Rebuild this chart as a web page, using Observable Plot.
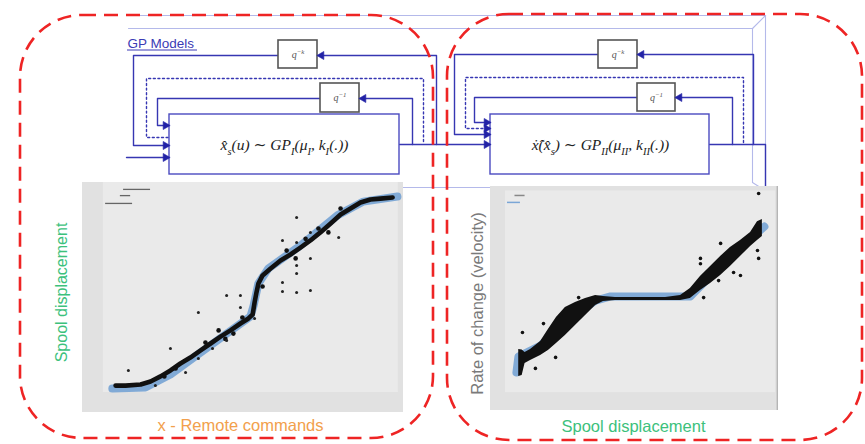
<!DOCTYPE html>
<html><head><meta charset="utf-8">
<script src="https://cdn.jsdelivr.net/npm/d3@7"></script>
<script src="https://cdn.jsdelivr.net/npm/@observablehq/plot@0.6"></script>
<style>
html,body{margin:0;padding:0;background:#fff;}
#wrap{position:relative;width:865px;height:444px;overflow:hidden;background:#fff;}
#wrap svg{position:absolute;}
</style></head><body><div id="wrap"></div>
<script>
// ---------------- DATA ----------------
// Left panel: spool displacement vs remote commands (0-100 units)
const leftMeanX  = [9.3, 19.6, 27.4, 36.8, 52.3, 53.3, 54.8, 57.9, 67.9, 79.4, 87.5, 98.1];
const leftMeanY  = [10.4, 10.9, 16.5, 26.1, 41.7, 46.5, 56.1, 62.6, 72.6, 85.7, 91.7, 93.9];
const leftTraceX = [10.3, 13.4, 18.1, 21.2, 24.3, 27.4, 30.5, 33.6, 36.8, 39.9, 43.0, 46.1, 49.2, 51.7, 53.0, 53.6, 54.2, 54.8, 56.1, 58.6, 61.7, 64.8, 67.9, 71.0, 74.1, 77.3, 80.4, 83.5, 86.6, 89.7, 92.8, 96.6];
const leftTraceY = [11.7, 11.7, 12.2, 13.5, 15.7, 18.3, 21.3, 23.9, 27.0, 30.0, 33.0, 35.7, 38.7, 40.9, 42.6, 47.8, 52.2, 56.1, 59.6, 62.6, 66.1, 68.7, 71.7, 74.8, 78.3, 82.2, 86.1, 88.7, 91.3, 92.6, 93.0, 93.5];
const leftSpikeX = [38.3, 42.4, 47.0, 49.8, 63.6, 66.4, 73.5, 76.6, 80.4, 56.1, 29.0, 25.5, 44.5, 69.5];
const leftSpikeY = [30.4, 35.7, 34.3, 41.3, 70.4, 67.0, 80.0, 78.3, 88.7, 54.8, 19.1, 15.7, 32.0, 75.5];
const leftDotsX  = [14.3, 22.7, 27.4, 32.1, 36.1, 36.1, 40.5, 44.9, 49.2, 44.9, 49.2, 62.3, 66.7, 71.0, 66.7, 71.0, 66.7, 66.7, 62.3, 62.3, 66.7, 71.0, 79.8, 53.6];
const leftDotsY  = [18.3, 11.7, 27.8, 17.4, 43.5, 23.5, 27.8, 50.9, 50.9, 31.3, 45.7, 74.8, 84.8, 78.3, 73.9, 67.0, 63.9, 60.4, 56.5, 52.6, 52.2, 53.0, 76.1, 40.9];
const leftLegendY  = [97.0, 94.3, 90.9];
const leftLegendX1 = [12.8, 11.8, 7.2];
const leftLegendX2 = [21.2, 15.0, 15.6];

// Right panel: rate of change (velocity) vs spool displacement (0-100 units)
const rightMeanX  = [9.0, 9.7, 17.4, 27.8, 36.5, 41.7, 69.4, 79.9, 95.1];
const rightMeanY  = [17.0, 24.1, 29.0, 41.1, 49.1, 50.9, 50.9, 64.7, 82.1];
const rightTraceX  = [9.8, 11.0, 12.0, 13.9, 17.4, 20.1, 22.9, 26.0, 29.5, 33.0, 36.5, 39.2, 43.4, 52.1, 60.8, 66.0, 69.4, 72.9, 76.4, 79.9, 83.3, 86.8, 90.3, 92.7, 94.4];
const rightTraceLo = [15.2, 15.6, 21.0, 22.3, 24.6, 26.8, 29.9, 33.5, 37.9, 42.4, 46.9, 48.7, 49.1, 49.1, 49.1, 49.1, 50.0, 53.6, 56.7, 60.3, 64.3, 68.8, 73.2, 75.9, 77.7];
const rightTraceHi = [27.2, 27.0, 25.9, 27.2, 30.8, 36.2, 41.5, 46.0, 48.2, 50.0, 51.3, 50.9, 50.4, 50.4, 50.4, 51.3, 54.5, 59.8, 64.3, 68.8, 72.8, 75.9, 79.5, 84.3, 85.3];
const rightDotsX = [30.6, 24.3, 18.4, 11.1, 22.6, 15.6, 72.9, 79.9, 84.4, 86.8, 79.2, 93.1, 92.7, 74.0, 93.1, 72.9];
const rightDotsY = [50.4, 42.4, 38.8, 34.8, 23.7, 18.8, 67.9, 74.6, 61.6, 60.3, 58.0, 67.9, 71.4, 50.4, 96.9, 65.5];
const rightLegendY  = [92.9, 96.0];
const rightLegendX1 = [5.9, 8.5];
const rightLegendX2 = [10.4, 12.0];

// Text
const modelsTitle = "GP Models";
const formulaI  = "x\u0302_{s}(u) \u223C GP_{I}(\u03BC_{I}, k_{I}(.))";
const formulaII = "x\u0307\u0302(x\u0302_{s}) \u223C GP_{II}(\u03BC_{II}, k_{II}(.))";
const delayK = "q^{\u2212k}";
const delay1 = "q^{\u22121}";
const leftYLabel  = "Spool displacement";
const leftXLabel  = "x - Remote commands";
const rightYLabel = "Rate of change (velocity)";
const rightXLabel = "Spool displacement";

// ---------------- LAYOUT (diagram geometry, px) ----------------
const W = 865, H = 444;
const frameLines = [
  [[128,15],[765,15]], [[128,28],[752,28]], [[765,15],[765,190]],
  [[752,28],[752,182]], [[752,28],[765,15]], [[752,182],[763,189]],
  [[128,187],[765,187]]
];
const solidLines = [
  [[399,144],[485,144]],
  [[436,144],[436,55],[321,55]],
  [[278,55],[133,55],[133,145],[164,145]],
  [[412,144],[412,98],[363,98]],
  [[320,98],[157,98],[157,125],[164,125]],
  [[126,157],[164,157]],
  [[709,144],[765,144],[765,190]],
  [[753,144],[753,54],[641,54]],
  [[598,54],[454,54],[454,134],[485,134]],
  [[732,144],[732,97],[679,97]],
  [[637,97],[474,97],[474,122],[485,122]]
];
const dottedLines = [
  [[423,141],[423,78],[146,78],[146,137],[168,137]],
  [[743,142],[743,77],[465,77],[465,128],[485,128]]
];
const arrowHeads = [
  [165,145,90],[165,125,90],[165,157,90],
  [486,144,90],[486,134,90],[486,122,90],[486,128,90],
  [321,55,-90],[363,98,-90],[641,54,-90],[679,97,-90]
];
const gpBoxes = [[169,114,399,174],[490,114,709,174]];
const qBoxes  = [[278,40,317,68],[320,83,359,112],[598,40,637,68],[637,83,675,111]];
const qLabels = [[297.5,54,delayK],[339.5,97.5,delay1],[617.5,54,delayK],[656,97,delay1]];
const redFrames = [[20,15,433,438],[447,14,862,440]];
const leftPanel  = {left:82, top:182, width:321, height:230};
const rightPanel = {left:490, top:186, width:288, height:224};

// ---------------- helpers ----------------
const BLUE = "#3636b2", LIGHT = "#b4b9ea";
const flat = (lines) => lines.flatMap((pts, i) => pts.map(p => ({id: i, x: p[0], y: p[1]})));
function stage(marks) {
  return Plot.plot({
    width: W, height: H, margin: 0,
    x: {domain: [0, W], axis: null},
    y: {domain: [0, H], reverse: true, axis: null},
    style: {background: "transparent", overflow: "visible"},
    marks
  });
}
function mathify(svg) {
  const ns = "http://www.w3.org/2000/svg";
  svg.querySelectorAll("text").forEach(el => {
    const s = el.textContent;
    if (!/[_^]\{/.test(s)) return;
    el.textContent = "";
    const re = /([_^])\{([^}]*)\}|([^_^]+)/g;
    let m, cur = 0;
    while ((m = re.exec(s))) {
      const ts = document.createElementNS(ns, "tspan");
      if (m[3] !== undefined) {
        ts.textContent = m[3];
        if (cur) ts.setAttribute("dy", (-cur) + "em");
        cur = 0;
      } else {
        const sh = m[1] === "_" ? 0.26 : -0.42;
        ts.setAttribute("font-size", "68%");
        ts.setAttribute("dy", ((sh - cur) / 0.68) + "em");
        ts.textContent = m[2];
        cur = sh;
      }
      el.appendChild(ts);
    }
  });
}
function place(svg, box) {
  svg.style.left = box.left + "px"; svg.style.top = box.top + "px";
  return svg;
}
const wrap = document.getElementById("wrap");

// ---------------- layer 1: GP model diagram ----------------
const diagram = stage([
  Plot.line(flat(frameLines), {x: "x", y: "y", z: "id", stroke: LIGHT, strokeWidth: 1.1}),
  Plot.line(flat(solidLines), {x: "x", y: "y", z: "id", stroke: BLUE, strokeWidth: 1.4}),
  Plot.line(flat(dottedLines), {x: "x", y: "y", z: "id", stroke: BLUE, strokeWidth: 1.4, strokeDasharray: "2,2.6"}),
  Plot.rect(gpBoxes, {x1: d => d[0], y1: d => d[1], x2: d => d[2], y2: d => d[3], fill: "white", stroke: "#4a4ac0", strokeWidth: 1.4}),
  Plot.rect(qBoxes, {x1: d => d[0], y1: d => d[1], x2: d => d[2], y2: d => d[3], fill: "white", stroke: "#555", strokeWidth: 1.6}),
  Plot.dot(arrowHeads, {x: d => d[0], y: d => d[1], rotate: d => d[2], symbol: "triangle", r: 3, fill: "#2222a6", stroke: "#2222a6", strokeWidth: 0.6}),
  Plot.text(qLabels, {x: d => d[0], y: d => d[1], text: d => d[2], fontFamily: "Liberation Serif, DejaVu Serif, serif", fontStyle: "italic", fontSize: 10, fill: "#555"}),
  Plot.text([modelsTitle], {x: 127, y: 43, text: d => d, textAnchor: "start", fontFamily: "Liberation Sans, Arial, sans-serif", fontSize: 13.5, fill: "#3b3bb5"}),
  Plot.ruleY([49.5], {x1: 127, x2: 197, stroke: "#3b3bb5", strokeWidth: 1}),
  Plot.text([[284, 145, formulaI], [600, 145, formulaII]], {x: d => d[0], y: d => d[1], text: d => d[2], fontFamily: "Liberation Serif, DejaVu Serif, serif", fontStyle: "italic", fontSize: 15.5, fill: "#222"})
]);
mathify(diagram);
place(diagram, {left: 0, top: 0});
wrap.appendChild(diagram);

// ---------------- layer 2: the two GP panels ----------------
function panel(box, marks) {
  return place(Plot.plot({
    width: box.width, height: box.height, margin: 0,
    x: {domain: [0, 100], axis: null},
    y: {domain: [0, 100], axis: null},
    style: {background: "transparent", overflow: "hidden"},
    marks
  }), box);
}
const zip2 = (a, b) => a.map((v, i) => ({x: v, y: b[i]}));

const leftSvg = panel(leftPanel, [
  Plot.rect([0], {x1: 0, x2: 100, y1: 0, y2: 100, fill: "#e1e1e1"}),
  Plot.rect([0], {x1: 6.5, x2: 98.4, y1: 8.7, y2: 100, fill: "#eaeaea"}),
  Plot.ruleY(leftLegendY.map((y, i) => ({y, x1: leftLegendX1[i], x2: leftLegendX2[i]})), {y: "y", x1: "x1", x2: "x2", stroke: "#666", strokeWidth: 1.3}),
  Plot.line(zip2(leftMeanX, leftMeanY), {x: "x", y: "y", stroke: "#6f9fd2", strokeWidth: 8, strokeOpacity: 0.85, strokeLinecap: "round"}),
  Plot.line(zip2(leftTraceX, leftTraceY), {x: "x", y: "y", stroke: "#111", strokeWidth: 4.6, strokeLinejoin: "round"}),
  Plot.dot(zip2(leftSpikeX, leftSpikeY), {x: "x", y: "y", r: 2.3, fill: "#111"}),
  Plot.dot(zip2(leftDotsX, leftDotsY), {x: "x", y: "y", r: 1.5, fill: "#222"})
]);
wrap.appendChild(leftSvg);

const rightSvg = panel(rightPanel, [
  Plot.rect([0], {x1: 0, x2: 100, y1: 0, y2: 100, fill: "#e1e1e1"}),
  Plot.rect([0], {x1: 5.2, x2: 99, y1: 8, y2: 98, fill: "#eaeaea"}),
  Plot.ruleX([99.6], {stroke: "#b5b5b5", strokeWidth: 1.5}),
  Plot.ruleY(rightLegendY.map((y, i) => ({y, x1: rightLegendX1[i], x2: rightLegendX2[i]})), {y: "y", x1: "x1", x2: "x2", stroke: d => d.y < 95 ? "#7aa6d6" : "#888", strokeWidth: 1.5}),
  Plot.line(zip2(rightMeanX, rightMeanY), {x: "x", y: "y", stroke: "#6f9fd2", strokeWidth: 8, strokeOpacity: 0.85, strokeLinecap: "round"}),
  Plot.areaY(rightTraceX.map((x, i) => ({x, lo: rightTraceLo[i], hi: rightTraceHi[i]})), {x: "x", y1: "lo", y2: "hi", fill: "#111"}),
  Plot.dot(zip2(rightDotsX, rightDotsY), {x: "x", y: "y", r: 1.8, fill: "#111"})
]);
wrap.appendChild(rightSvg);

// ---------------- layer 3: dashed regions and axis labels ----------------
const SANS = "Liberation Sans, Arial, Helvetica, sans-serif";
const overlay = stage([
  Plot.rect(redFrames, {x1: d => d[0], y1: d => d[1], x2: d => d[2], y2: d => d[3], rx: 62, ry: 62, fill: "none", stroke: "#ee2424", strokeWidth: 2.6, strokeDasharray: "14,8"}),
  Plot.text([leftYLabel], {x: 61, y: 292, text: d => d, rotate: -90, fontFamily: SANS, fontSize: 16, fill: "#3cc17c"}),
  Plot.text([leftXLabel], {x: 240, y: 425, text: d => d, fontFamily: SANS, fontSize: 16.5, fill: "#f2a04c"}),
  Plot.text([rightYLabel], {x: 477, y: 303, text: d => d, rotate: -90, fontFamily: SANS, fontSize: 16.5, fill: "#7a7a7a"}),
  Plot.text([rightXLabel], {x: 633, y: 426, text: d => d, fontFamily: SANS, fontSize: 16.5, fill: "#3cc17c"})
]);
place(overlay, {left: 0, top: 0});
wrap.appendChild(overlay);
</script>
</body></html>
